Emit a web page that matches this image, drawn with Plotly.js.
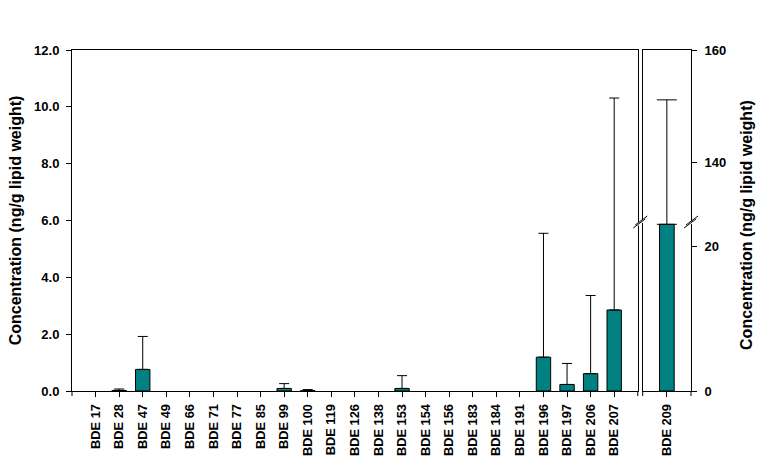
<!DOCTYPE html>
<html>
<head>
<meta charset="utf-8">
<script src="https://cdn.plot.ly/plotly-3.0.1.min.js"></script>
<style>html,body{margin:0;padding:0;background:#fff;}#chart{width:758px;height:471px;}</style>
</head>
<body>
<div id="chart"></div>
<script>
// ---- data ----
var congeners = ['BDE 17','BDE 28','BDE 47','BDE 49','BDE 66','BDE 71','BDE 77','BDE 85','BDE 99','BDE 100','BDE 119','BDE 126','BDE 138','BDE 153','BDE 154','BDE 156','BDE 183','BDE 184','BDE 191','BDE 196','BDE 197','BDE 206','BDE 207'];
var meanValues = [0, 0.02, 0.76, 0, 0, 0, 0, 0, 0.09, 0.01, 0, 0, 0, 0.09, 0, 0, 0, 0, 0, 1.19, 0.23, 0.61, 2.85];
var errorValues = [0, 0.05, 1.16, 0, 0, 0, 0, 0, 0.17, 0.04, 0, 0, 0, 0.45, 0, 0, 0, 0, 0, 4.36, 0.74, 2.75, 7.46];
var bde209Label = ['BDE 209'];
var bde209Mean = [23.1];
var bde209Error = [128.0];
var leftTicks = [0, 2, 4, 6, 8, 10, 12];
var leftTickText = ['0.0', '2.0', '4.0', '6.0', '8.0', '10.0', '12.0'];
var lowerTicks = [0, 20];
var upperTicks = [140, 160];
var yTitle = 'Concentration (ng/g lipid weight)';

// ---- styling ----
var teal = '#008080';
var fontFam = 'Arial, "Liberation Sans", sans-serif';
var breakFrac = 0.4956;
var leftEnd = 0.914, rightStart = 0.922;

// nothing is drawn where there is no value
var errorShown = errorValues.map(function (v) { return v > 0 ? v : NaN; });
var outlineWidth = meanValues.map(function (v) { return v > 0 ? 1 : 0; });

var t1 = {
  type: 'bar', width: 0.61, showlegend: false, hoverinfo: 'x+y',
  x: congeners, y: meanValues, xaxis: 'x', yaxis: 'y',
  marker: {color: teal, line: {color: '#000', width: outlineWidth}},
  error_y: {type: 'data', symmetric: false, array: errorShown, color: '#000', thickness: 1, width: 5}
};
var t2 = {
  type: 'bar', width: 0.61, showlegend: false, hoverinfo: 'x+y',
  x: bde209Label, y: bde209Mean, xaxis: 'x2', yaxis: 'y2',
  marker: {color: teal, line: {color: '#000', width: 1}},
  error_y: {type: 'data', symmetric: false, array: bde209Error, color: '#000', thickness: 1, width: 10}
};
var t3 = {
  type: 'bar', width: 0.61, showlegend: false, hoverinfo: 'x+y',
  x: bde209Label, y: bde209Mean, xaxis: 'x3', yaxis: 'y3',
  marker: {color: teal, line: {color: '#000', width: 1}},
  error_y: {type: 'data', symmetric: false, array: bde209Error, color: '#000', thickness: 1, width: 10}
};

var axisLine = {showline: true, linecolor: '#000', linewidth: 1, showgrid: false, zeroline: false};
var xTickFont = {family: fontFam, size: 12.8, color: '#000', weight: 'bold'};
var yTickFont = {family: fontFam, size: 13, color: '#000', weight: 'bold'};

function slashShapes(px) {
  var out = [];
  var common = {xref: 'paper', yref: 'paper', xsizemode: 'pixel', ysizemode: 'pixel', xanchor: px, yanchor: breakFrac, layer: 'above'};
  out.push(Object.assign({}, common, {type: 'path', path: 'M-7,-7 L5,1 L7,5 L-5,-3 Z', fillcolor: '#fff', line: {width: 0}}));
  out.push(Object.assign({}, common, {type: 'line', x0: -7, y0: -6, x1: 5, y1: 3, line: {color: '#000', width: 1}}));
  out.push(Object.assign({}, common, {type: 'line', x0: -5, y0: -3, x1: 7, y1: 6, line: {color: '#000', width: 1}}));
  return out;
}
function edgeTick(px) {
  return {type: 'line', xref: 'paper', yref: 'paper', ysizemode: 'pixel', yanchor: 0,
          x0: px, x1: px, y0: 0, y1: -5, line: {color: '#000', width: 1}, layer: 'above'};
}

var layout = {
  width: 758, height: 471,
  margin: {l: 72, r: 67, t: 50, b: 80},
  paper_bgcolor: '#fff', plot_bgcolor: 'rgba(0,0,0,0)',
  font: {family: fontFam, color: '#000'},
  showlegend: false,
  xaxis: Object.assign({}, axisLine, {
    domain: [0, leftEnd], anchor: 'y', type: 'category',
    categoryorder: 'array', categoryarray: congeners,
    range: [-1, congeners.length], mirror: true,
    ticks: 'outside', ticklen: 5, tickcolor: '#000', tickangle: -90,
    tickfont: xTickFont, ticklabelstandoff: 2
  }),
  yaxis: Object.assign({}, axisLine, {
    domain: [0, 1], anchor: 'x', range: [0, 12], mirror: true,
    tickvals: leftTicks, ticktext: leftTickText,
    ticks: 'outside', ticklen: 5, tickcolor: '#000', tickfont: yTickFont, ticklabelstandoff: 4,
    title: {text: yTitle, font: {family: fontFam, size: 16, color: '#000', weight: 'bold'}, standoff: 8}
  }),
  xaxis2: Object.assign({}, axisLine, {
    domain: [rightStart, 1], anchor: 'y2', type: 'category',
    range: [-1, 1],
    ticks: 'outside', ticklen: 5, tickcolor: '#000', tickangle: -90,
    tickfont: xTickFont, ticklabelstandoff: 2
  }),
  xaxis3: Object.assign({}, axisLine, {
    domain: [rightStart, 1], anchor: 'y3', type: 'category', side: 'top',
    range: [-1, 1], showticklabels: false, ticks: ''
  }),
  yaxis2: Object.assign({}, axisLine, {
    domain: [0, breakFrac], anchor: 'x2', side: 'right', range: [0, 23.42], mirror: true,
    tickvals: lowerTicks, ticks: 'outside', ticklen: 5, tickcolor: '#000', tickfont: yTickFont, ticklabelstandoff: 5
  }),
  yaxis3: Object.assign({}, axisLine, {
    domain: [breakFrac, 1], anchor: 'x3', side: 'right', range: [129.3, 160], mirror: true,
    tickvals: upperTicks, ticks: 'outside', ticklen: 5, tickcolor: '#000', tickfont: yTickFont, ticklabelstandoff: 5
  }),
  annotations: [{
    xref: 'paper', yref: 'paper', x: 1.0905, y: 0.487, xanchor: 'center', yanchor: 'middle',
    text: yTitle, textangle: -90, showarrow: false,
    font: {family: fontFam, size: 16, color: '#000', weight: 'bold'}
  }],
  shapes: [].concat(
    slashShapes((leftEnd + rightStart) / 2), slashShapes(1),
    [edgeTick(0), edgeTick(leftEnd), edgeTick(rightStart), edgeTick(1)]
  )
};

Plotly.newPlot('chart', [t1, t2, t3], layout, {staticPlot: true, displayModeBar: false});
</script>
</body>
</html>
